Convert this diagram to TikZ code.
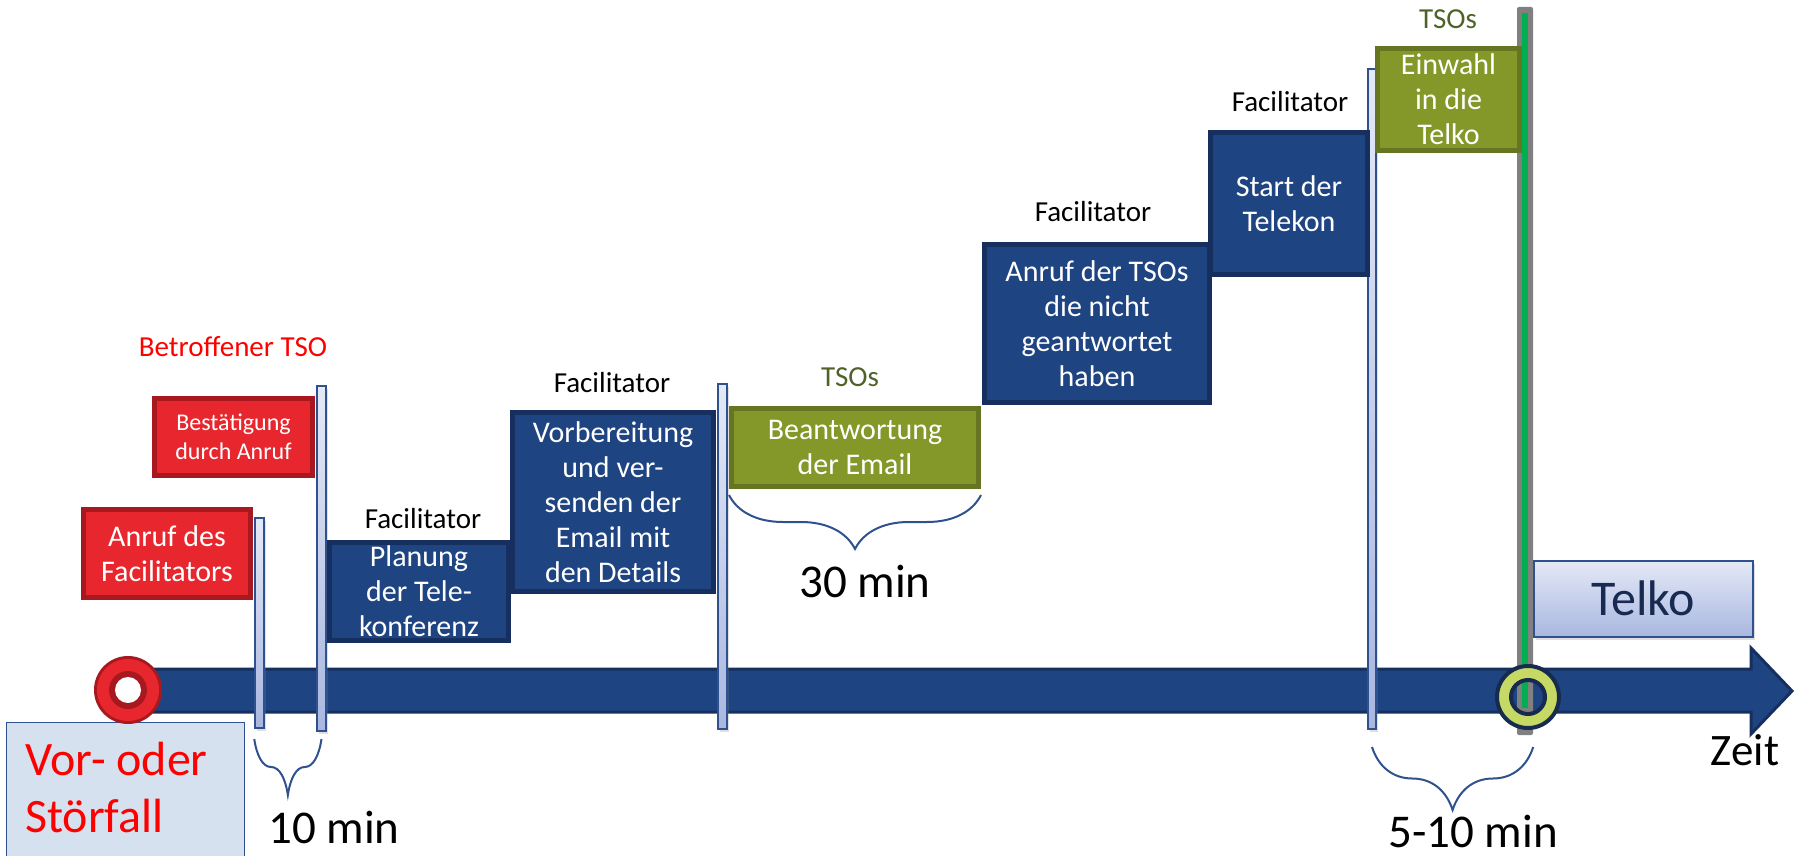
\documentclass[tikz,border=0pt]{standalone}
\usepackage{fontspec}
\setmainfont{Carlito}
\usetikzlibrary{decorations.pathreplacing,shadows}

\newlength{\du}
\setlength{\du}{1pt}

\definecolor{navyfill}{HTML}{1F4482}
\definecolor{navyline}{HTML}{172F5E}
\definecolor{redfill}{HTML}{E8262D}
\definecolor{redline}{HTML}{A8191F}
\definecolor{olivefill}{HTML}{839828}
\definecolor{oliveline}{HTML}{657521}
\definecolor{olivetext}{HTML}{4F6228}
\definecolor{barline}{HTML}{2F528F}
\definecolor{bartop}{HTML}{E4E9F7}
\definecolor{barbot}{HTML}{A9B7E0}
\definecolor{vorfill}{HTML}{D6E1EF}
\definecolor{ringfill}{HTML}{C5D964}
\definecolor{ringline}{HTML}{172B4F}
\definecolor{telkotext}{HTML}{182A52}
\definecolor{greyline}{HTML}{808080}
\definecolor{greenline}{HTML}{00B050}

\tikzset{
  stepbox/.style={rectangle, draw=navyline, fill=navyfill, line width=5\du,
    text=white, align=center, inner sep=0pt, font=\fontsize{30}{35}\selectfont},
  redbox/.style={stepbox, draw=redline, fill=redfill},
  olivebox/.style={stepbox, draw=oliveline, fill=olivefill},
  timebar/.style={rectangle, draw=barline, line width=1.5\du, top color=bartop,
    bottom color=barbot, inner sep=0pt, minimum width=9\du,
    drop shadow={shadow xshift=2pt, shadow yshift=-3pt, opacity=0.25}},
  rolle/.style={anchor=base, inner sep=0pt, font=\fontsize{29}{34}\selectfont},
  dauer/.style={anchor=base, inner sep=0pt, text depth=0pt, font=\fontsize{47}{56}\selectfont},
  klammer/.style={draw=barline, line width=2\du, decorate,
    decoration={brace, mirror, amplitude=#1}},
}

\begin{document}
\begin{tikzpicture}[x=\du, y=-\du]
\useasboundingbox (0,0) rectangle (1799,856);

% Zeitachse
\draw[navyline, fill=navyfill, line width=3\du, line join=miter]
  (128,669) -- (1751,669) -- (1751,648) -- (1792,691) -- (1751,734)
  -- (1751,712) -- (128,712) -- cycle;

% Zeitmarken
\node[timebar, minimum height=210\du] (bar1) at (259.5,623) {};
\node[timebar, minimum height=345\du] (bar2) at (321.5,558.5) {};
\node[timebar, minimum height=345\du] (bar3) at (722.5,556.5) {};
\node[timebar, minimum width=8\du, minimum height=660\du] (bar4) at (1372,399) {};
\node[rectangle, fill=greyline, rounded corners=2\du, inner sep=0pt,
  minimum width=16\du, minimum height=728\du] (graybar) at (1525,371) {};
\draw[greenline, line width=6\du] ([yshift=-6\du]graybar.north) -- (1525,708);

% Ereignis
\node[rectangle, draw=barline, fill=vorfill, line width=1.5\du, inner sep=0pt,
  anchor=north west, minimum width=238\du, minimum height=160\du] (vorfall) at (5.5,721.5) {};
\node[anchor=base west, inner sep=0pt, text=red, font=\fontsize{48}{57}\selectfont]
  (vor1) at (25,775) {Vor- oder};
\node[anchor=base west, inner sep=0pt, text=red, text depth=0pt, font=\fontsize{48}{57}\selectfont]
  (vor2) at (25,832) {Störfall};
\fill[redline] (128,690) circle (34\du);
\fill[redfill] (128,690) circle (31\du);
\fill[redline] (128,690) circle (19\du);
\fill[white] (128,690) circle (13\du);
\draw[ringline, fill=ringfill, line width=4\du, even odd rule]
  (1528,697) circle (31\du) (1528,697) circle (17\du);

% Schritte
\node[redbox, minimum width=167\du, minimum height=88\du] (anrufFac) at (167,553.5)
  {Anruf des\\Facilitators};
\node[redbox, minimum width=158\du, minimum height=77\du, font=\fontsize{24}{29}\selectfont]
  (bestaetigung) at (233.5,437) {Bestätigung\\durch Anruf};
\node[stepbox, minimum width=179\du, minimum height=98\du] (planung) at (419,591.5)
  {Planung\\der Tele-\\konferenz};
\node[stepbox, minimum width=201\du, minimum height=179\du] (vorbereitung) at (613,502)
  {Vorbereitung\\und ver-\\senden der\\Email mit\\den Details};
\node[olivebox, minimum width=247\du, minimum height=78\du] (beantwortung) at (855,447.5)
  {Beantwortung\\der Email};
\node[stepbox, minimum width=225\du, minimum height=158\du] (anrufTSO) at (1097,323.5)
  {Anruf der TSOs\\die nicht\\geantwortet\\haben};
\node[stepbox, minimum width=157\du, minimum height=142\du] (startTelko) at (1289,203.5)
  {Start der\\Telekon};
\node[olivebox, minimum width=142\du, minimum height=102\du] (einwahl) at (1448.5,99.5)
  {Einwahl\\in die\\Telko};
\node[rectangle, draw=barline, line width=2\du, top color=bartop, bottom color=barbot,
  minimum width=219\du, minimum height=76\du, inner sep=0pt,
  drop shadow={shadow xshift=2pt, shadow yshift=-3pt, opacity=0.25}] (telko) at (1643.5,599) {};
\node[dauer, text=telkotext, font=\fontsize{50}{58}\selectfont] (telkoText) at (1643,615) {Telko};

% Rollen
\node[rolle, text=red] (rolle1) at (233,356) {Betroffener TSO};
\node[rolle] (rolle2) at (423,528) {Facilitator};
\node[rolle] (rolle3) at (612,392) {Facilitator};
\node[rolle, text=olivetext] (rolle4) at (850,386) {TSOs};
\node[rolle] (rolle5) at (1093,221) {Facilitator};
\node[rolle] (rolle6) at (1290,112) {Facilitator};
\node[rolle, text=olivetext] (rolle7) at (1448,29) {TSOs};

% Dauer
\draw[klammer=56\du] (bar1.south west |- 0,739) -- (bar2.south |- 0,739);
\draw[klammer=54\du] (beantwortung.south west |- 0,495) -- (beantwortung.south east |- 0,495);
\draw[klammer=63\du] (bar4.south |- 0,747) -- (graybar.south east |- 0,747);
\node[dauer] (d10) at (334,843) {10 min};
\node[dauer] (d30) at (865,597) {30 min};
\node[dauer] (d510) at (1473,847) {5-10 min};
\node[dauer, font=\fontsize{45}{54}\selectfont] (zeit) at (1745,765) {Zeit};
\end{tikzpicture}
\end{document}
